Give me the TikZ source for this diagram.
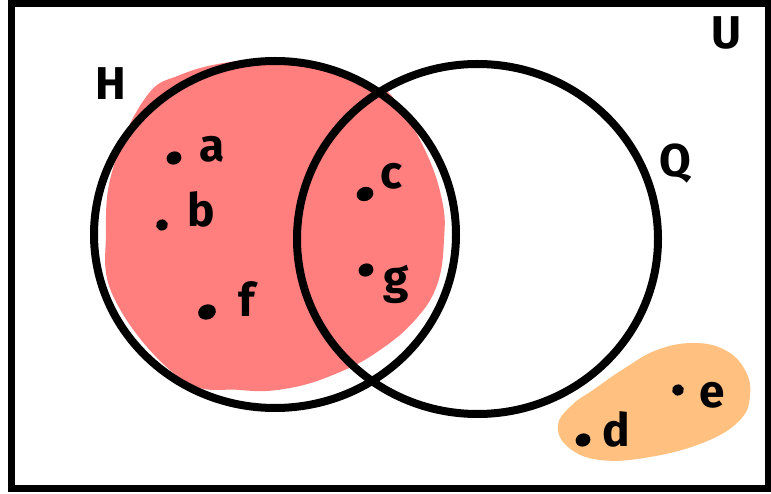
\documentclass[tikz,border=0pt]{standalone}
\usepackage{fontspec}
\setmainfont{Fira Sans}
\usetikzlibrary{shapes.geometric}
\definecolor{shadeH}{HTML}{FF7F7F}
\definecolor{shadeOut}{HTML}{FFC080}
\begin{document}
\begin{tikzpicture}[x=1pt,y=-1pt,
  setring/.style={draw=black,line width=8pt,ellipse,inner sep=0pt},
  elem/.style={ellipse,fill=black,inner sep=0pt,minimum width=15pt,minimum height=13pt,rotate=20},
  lbl/.style={font=\fontsize{46}{46}\selectfont\bfseries,inner sep=0pt},
  setname/.style={font=\fontsize{46}{46}\selectfont\bfseries,inner sep=0pt}]
\useasboundingbox (0,0) rectangle (771,494);

% shaded region: all of H
\fill[shadeH] plot[smooth cycle,tension=0.7] coordinates {
  (146,97) (180,75) (230,62) (280,60) (330,68) (375,86) (395,100)
  (425,150) (442,200) (444,240) (437,285) (415,320) (380,350)
  (340,372) (290,388) (240,390) (180,378) (115,300) (106,230) (114,165)};

% shaded region: outside both sets
\fill[shadeOut] plot[smooth cycle,tension=0.7] coordinates {
  (593,390) (625,368) (657,350) (693,343) (725,350) (745,370) (750,395)
  (740,420) (705,442) (650,457) (600,460) (568,447) (558,425) (572,405)};

% universal set
\draw[line width=7pt] (11,4) rectangle (768,488);

% the two sets
\node[setring,minimum width=362pt,minimum height=347pt] (H) at (275,234.5) {};
\node[setring,minimum width=361pt,minimum height=350pt] (Q) at (477.5,239) {};

% set names
\node[setname] (nameU) at (726,33) {U};
\node[setname] (nameH) at (111,84) {H};
\node[setname] (nameQ) at (675,164) {Q};

% elements
\node[elem] (pa) at (174,158) {};
\node[lbl] (la) at (212,149) {a};
\node[elem,minimum width=12pt,minimum height=11pt] (pb) at (162,225) {};
\node[lbl] (lb) at (201,209) {b};
\node[elem,minimum width=18pt,minimum height=15pt] (pf) at (207,312) {};
\node[lbl] (lf) at (247,299) {f};
\node[elem,minimum width=17pt,minimum height=14pt] (pc) at (365,194) {};
\node[lbl] (lc) at (392,176) {c};
\node[elem] (pg) at (366,270) {};
\node[lbl] (lg) at (396,284) {g};
\node[elem] (pd) at (583,440) {};
\node[lbl] (ld) at (616,429) {d};
\node[elem,minimum width=12pt,minimum height=11pt] (pe) at (678,390) {};
\node[lbl] (le) at (712,395) {e};
\end{tikzpicture}
\end{document}
